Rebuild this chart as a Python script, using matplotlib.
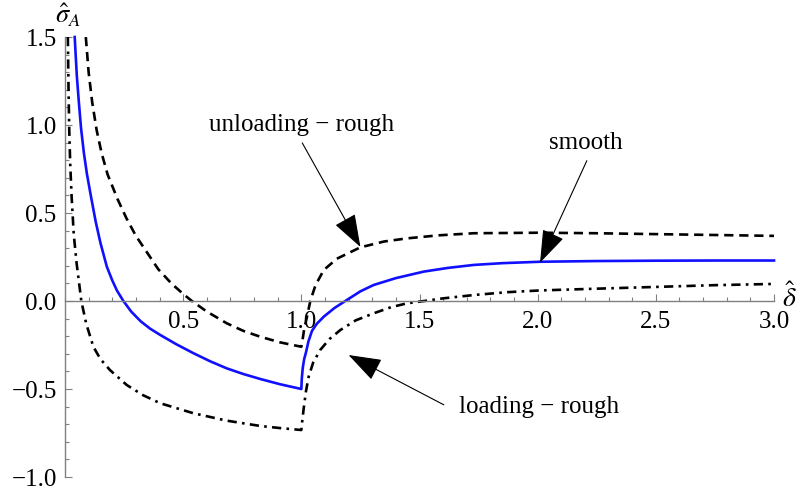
import numpy as np
import matplotlib
matplotlib.use('Agg')
import matplotlib.pyplot as plt
from matplotlib.ticker import MultipleLocator, FixedLocator

plt.rcParams['font.family'] = ['Liberation Serif', 'DejaVu Serif']
plt.rcParams['mathtext.fontset'] = 'stix'
plt.rcParams['axes.unicode_minus'] = True

# smooth contact (blue)
smooth_x = [0.041, 0.05, 0.058, 0.068, 0.08, 0.093, 0.11, 0.13, 0.15, 0.177, 0.20, 0.22, 0.247,
            0.28, 0.32, 0.36, 0.403, 0.47, 0.544, 0.615, 0.685, 0.755, 0.826, 0.91, 1.0,
            1.002, 1.006, 1.012, 1.02, 1.03, 1.045, 1.065, 1.095, 1.14, 1.186, 1.25, 1.306, 1.4,
            1.518, 1.62, 1.73, 1.85, 2.01, 2.25, 2.5, 2.75, 3.0]
smooth_y = [1.5, 1.28, 1.14, 0.98, 0.84, 0.72, 0.593, 0.45, 0.33, 0.195, 0.117, 0.059, 0.0,
            -0.06, -0.115, -0.157, -0.193, -0.245, -0.297, -0.343, -0.383, -0.415, -0.443, -0.473, -0.5,
            -0.44, -0.38, -0.33, -0.29, -0.23, -0.17, -0.13, -0.089, -0.04, 0.0, 0.055, 0.091, 0.13,
            0.167, 0.188, 0.205, 0.215, 0.223, 0.227, 0.229, 0.23, 0.23]

# unloading, rough surface (dashed)
unload_x = [0.088, 0.10, 0.115, 0.134, 0.155, 0.18, 0.222, 0.26, 0.30, 0.35, 0.395, 0.45, 0.50,
            0.537, 0.60, 0.685, 0.755, 0.826, 0.91, 1.0, 1.003, 1.012, 1.024, 1.038, 1.06, 1.095,
            1.15, 1.25, 1.35, 1.448, 1.58, 1.73, 2.01, 2.25, 2.5, 2.75, 3.0]
unload_y = [1.5, 1.3, 1.13, 0.97, 0.84, 0.72, 0.58, 0.47, 0.37, 0.27, 0.18, 0.10, 0.04,
            0.0, -0.06, -0.127, -0.17, -0.203, -0.235, -0.26, -0.24, -0.16, -0.089, 0.0, 0.09, 0.176,
            0.24, 0.305, 0.338, 0.356, 0.373, 0.385, 0.388, 0.385, 0.38, 0.375, 0.37]

# loading, rough surface (dash-dot)
load_x = [0.012, 0.015, 0.018, 0.022, 0.028, 0.037, 0.049, 0.069, 0.09, 0.12, 0.15, 0.19, 0.261,
          0.33, 0.403, 0.544, 0.685, 0.826, 0.91, 1.0, 1.004, 1.01, 1.02, 1.031, 1.05, 1.08, 1.12,
          1.165, 1.23, 1.306, 1.38, 1.448, 1.52, 1.6, 1.73, 1.87, 2.01, 2.25, 2.5, 2.75, 3.0]
load_y = [1.5, 1.2, 0.97, 0.78, 0.593, 0.38, 0.216, 0.0, -0.13, -0.26, -0.33, -0.392, -0.477,
          -0.535, -0.581, -0.638, -0.68, -0.71, -0.722, -0.733, -0.68, -0.61, -0.51, -0.43, -0.35, -0.278, -0.215,
          -0.165, -0.11, -0.07, -0.035, -0.013, 0.0, 0.015, 0.034, 0.05, 0.06, 0.07, 0.08, 0.09, 0.097]

x_ticks = [0.5, 1.0, 1.5, 2.0, 2.5, 3.0]
y_ticks = [-1.0, -0.5, 0.0, 0.5, 1.0, 1.5]

fig = plt.figure(figsize=(7.98, 4.91), dpi=100)
ax = fig.add_axes([65 / 798, 14 / 491, 709 / 798, 440 / 491])

ax.plot(smooth_x, smooth_y, color='#1010ff', lw=1.9, clip_on=False, solid_joinstyle='round')
ax.plot(unload_x, unload_y, color='black', lw=1.9, dashes=(3.5, 2.2))
ax.plot(load_x, load_y, color='black', lw=1.9, dashes=(3.5, 2.0, 1.0, 2.0))

ax.set_xlim(0, 3.0)
ax.set_ylim(-1.0, 1.5)

axis_grey = '#808080'
for side in ['top', 'right']:
    ax.spines[side].set_visible(False)
ax.spines['bottom'].set_position(('data', 0))
ax.spines['left'].set_position(('data', 0))
for side in ['bottom', 'left']:
    ax.spines[side].set_color(axis_grey)
    ax.spines[side].set_linewidth(1.0)

ax.xaxis.set_major_locator(FixedLocator(x_ticks))
ax.xaxis.set_minor_locator(MultipleLocator(0.1))
ax.yaxis.set_major_locator(FixedLocator(y_ticks))
ax.yaxis.set_minor_locator(MultipleLocator(0.1))
ax.set_xticklabels(['%.1f' % v for v in x_ticks])
ax.set_yticklabels([('%.1f' % v).replace('-', '\u2212') for v in y_ticks])
ax.tick_params(which='both', direction='in', color=axis_grey, labelsize=18, labelcolor='black')
ax.tick_params(which='major', length=5, width=0.8)
ax.tick_params(which='minor', length=3, width=0.8)
ax.tick_params(axis='x', pad=7)
ax.tick_params(axis='y', pad=6)

fig.text(68 / 798, 1 - 15 / 491, r'$\hat{\sigma}_A$', fontsize=19, ha='center', va='center')
fig.text(782 / 798, 1 - 298 / 491, r'$\hat{\delta}$', fontsize=20, ha='left', va='center')

arrow = dict(arrowstyle='-|>,head_length=0.8,head_width=0.28', mutation_scale=26,
             color='black', lw=0.8, shrinkA=0, shrinkB=0)
ax.text(1.0, 1.0, 'unloading \u2212 rough', fontsize=18, ha='center', va='center')
ax.annotate('', xy=(1.25, 0.307), xytext=(1.004, 0.898), arrowprops=arrow)
ax.text(2.203, 0.898, 'smooth', fontsize=18, ha='center', va='center')
ax.annotate('', xy=(2.01, 0.218), xytext=(2.208, 0.797), arrowprops=arrow)
ax.text(2.004, -0.60, 'loading \u2212 rough', fontsize=18, ha='center', va='center')
ax.annotate('', xy=(1.2, -0.307), xytext=(1.603, -0.59), arrowprops=arrow)

fig.savefig('out.png', dpi=100)
